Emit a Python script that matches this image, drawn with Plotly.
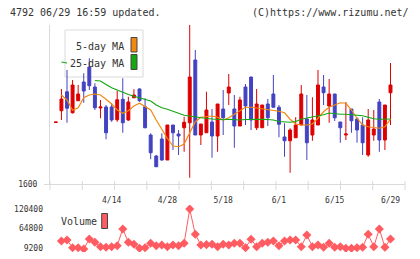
import plotly.graph_objects as go

# ---------------- data ----------------
dates = ["3/31", "4/1", "4/2", "4/3", "4/6", "4/7", "4/8", "4/9", "4/10", "4/13",
         "4/14", "4/15", "4/16", "4/17", "4/20", "4/21", "4/22", "4/23", "4/24", "4/27",
         "4/28", "4/30", "5/1", "5/7", "5/8", "5/11", "5/12", "5/13", "5/14", "5/15",
         "5/18", "5/19", "5/20", "5/21", "5/22", "5/25", "5/26", "5/27", "5/28", "5/29",
         "6/1", "6/2", "6/3", "6/4", "6/5", "6/8", "6/9", "6/10", "6/11", "6/12",
         "6/15", "6/16", "6/17", "6/18", "6/19", "6/22", "6/23", "6/24", "6/25", "6/26",
         "6/29"]

open_ = [1846, 1893, 1969, 1885, 1933, 2008, 2068, 1988, 1904, 1908,
         1908, 1857, 1939, 1856, 1945, 1980, 1909, 1796, 1712, 1780,
         1696, 1836, 1800, 1825, 1845, 2096, 1796, 1805, 1848, 1792,
         1900, 1964, 1900, 1832, 1988, 2028, 1825, 1825, 1920, 1960,
         1907, 1788, 1773, 1785, 1836, 1860, 1796, 1836, 1988, 1912,
         1960, 1848, 1796, 1900, 1860, 1836, 1716, 1796, 1928, 1776,
         1965]
high = [1848, 1980, 2056, 2016, 1996, 2043, 2103, 2003, 1936, 1916,
        1923, 1973, 2023, 1949, 1979, 1983, 1943, 1803, 1716, 1803,
        1836, 1836, 1816, 1869, 2236, 2136, 1840, 1969, 1900, 1920,
        1976, 2040, 1956, 1949, 2000, 2028, 1980, 1916, 1940, 2036,
        1916, 1843, 1823, 1867, 1996, 1956, 1947, 2056, 2036, 2020,
        1960, 1848, 1928, 1900, 1867, 1867, 1900, 1896, 1940, 1916,
        2084]
low = [1846, 1856, 1845, 1882, 1933, 1925, 1976, 1896, 1863, 1779,
       1849, 1849, 1805, 1853, 1943, 1929, 1823, 1699, 1669, 1693,
       1696, 1736, 1716, 1729, 1625, 1796, 1756, 1805, 1705, 1729,
       1796, 1916, 1745, 1832, 1836, 1816, 1816, 1825, 1832, 1907,
       1787, 1709, 1645, 1785, 1836, 1696, 1773, 1836, 1916, 1845,
       1852, 1765, 1776, 1805, 1765, 1716, 1709, 1773, 1729, 1736,
       1836]
close = [1848, 1940, 1903, 1996, 1960, 1972, 1993, 1905, 1908, 1805,
         1856, 1937, 1845, 1928, 1956, 1933, 1825, 1725, 1669, 1696,
         1836, 1805, 1792, 1847, 2028, 1796, 1840, 1896, 1792, 1920,
         1865, 1988, 1832, 1936, 1912, 1856, 1920, 1916, 1865, 1907,
         1839, 1773, 1816, 1836, 1960, 1765, 1856, 1996, 1965, 1960,
         1865, 1825, 1800, 1853, 1816, 1765, 1856, 1820, 1776, 1916,
         1996]

ma5 = [None, 1956, 1936, 1895, 1905, 1945, 1956, 1960, 1956, 1939,
       1920, 1896, 1883, 1893, 1912, 1923, 1909, 1896, 1856, 1816,
       1782, 1752, 1749, 1760, 1803, 1849, 1867, 1871, 1872, 1867,
       1856, 1865, 1879, 1896, 1907, 1907, 1904, 1899, 1899, 1896,
       1891, 1885, 1859, 1840, 1836, 1836, 1840, 1863, 1889, 1907,
       1916, 1925, 1923, 1896, 1863, 1836, 1829, 1825, 1823, 1829,
       1860]
ma25 = [None, 2088, 2084, None, None, None, None, 2014, 2012, 1998,
        1985, 1976, 1966, 1958, 1951, 1945, 1938, 1932, 1916, 1905,
        1899, 1891, 1883, 1875, 1872, 1868, 1866, 1862, 1860, 1857,
        1857, 1859, 1857, 1856, 1858, 1859, 1859, 1859, 1858, 1856,
        1850, 1848, 1847, 1850, 1859, 1864, 1868, 1872, 1877, 1884,
        1880, 1879, 1879, 1878, 1875, 1873, 1867, 1861, 1859, 1859,
        1860]

volume = [None, 29900, 32800, 10900, 10900, 7200, 35600, 26200, 13700, 12000,
          13700, 16600, 64000, 26200, 20500, 9200, 10900, 23400, 16600, 18600,
          13700, 18600, 16600, 23400, 120400, 48900, 18600, 19500, 20500, 13700,
          20500, 18600, 23400, 23400, 10900, 34700, 13700, 23400, 26200, 30000,
          16600, 30000, 32800, 32800, 13700, 47000, 13700, 18600, 12000, 23400,
          12000, 13700, 9200, 9200, 10900, 12000, 48900, 13700, 64000, 12000,
          35600]

date_ticks = ["4/14", "4/28", "5/18", "6/1", "6/15", "6/29"]
price_ticks = [1600]
volume_ticks = [9200, 64800, 120400]

# ---------------- style ----------------
W, H = 420, 259
RED = "#dd0000"
BLUE = "#4343c2"
ORANGE = "#f0890f"
GREEN = "#12a812"
VOLC = "#ff5c62"
GRID = "#dadada"
TXT = "#333333"
MONO = "DejaVu Sans Mono"


def px(x):
    return x / W


def py(y):
    return 1 - y / H


X0, X1 = 50, 405
fig = go.Figure()

fig.add_trace(go.Candlestick(
    x=dates, open=open_, high=high, low=low, close=close,
    increasing=dict(line=dict(color=RED, width=1), fillcolor=RED),
    decreasing=dict(line=dict(color=BLUE, width=1), fillcolor=BLUE),
    showlegend=False, xaxis="x", yaxis="y", hoverinfo="skip"))

fig.add_trace(go.Scatter(x=dates, y=ma5, mode="lines",
                         line=dict(color=ORANGE, width=1.2),
                         showlegend=False, xaxis="x", yaxis="y"))
fig.add_trace(go.Scatter(x=dates, y=ma25, mode="lines",
                         line=dict(color=GREEN, width=1.2),
                         showlegend=False, xaxis="x", yaxis="y"))

fig.add_trace(go.Scatter(x=dates, y=volume, mode="lines+markers",
                         line=dict(color=VOLC, width=1),
                         marker=dict(symbol="diamond", size=7, color=VOLC),
                         showlegend=False, xaxis="x2", yaxis="y2"))

xrange = [-1.05, 62.6]

fig.update_layout(
    width=W, height=H, autosize=False,
    margin=dict(l=0, r=0, t=0, b=0, pad=0, autoexpand=False),
    showlegend=False,
    paper_bgcolor="white", plot_bgcolor="white",
    boxgap=0.25,
    font=dict(family=MONO, size=8, color=TXT),
    xaxis=dict(domain=[px(X0), px(X1)], anchor="y", type="category",
               categoryorder="array", categoryarray=dates,
               range=xrange, rangeslider=dict(visible=False),
               tickmode="array", tickvals=date_ticks, ticktext=date_ticks,
               ticks="", showgrid=False, zeroline=False, automargin=False,
               showline=True, linecolor=GRID, linewidth=1,
               ticklabelstandoff=8, tickfont=dict(size=8, family=MONO, color=TXT)),
    yaxis=dict(domain=[py(184), py(25)], anchor="x",
               range=[1600, 2236], tickmode="array", tickvals=price_ticks,
               ticktext=[str(v) for v in price_ticks],
               ticks="outside", ticklen=5, tickcolor=GRID,
               showgrid=False, zeroline=False, automargin=False,
               showline=True, linecolor=GRID, linewidth=1,
               ticklabelstandoff=5, tickfont=dict(size=8, family=MONO, color=TXT)),
    xaxis2=dict(domain=[px(X0), px(X1)], anchor="y2", type="category",
                categoryorder="array", categoryarray=dates,
                range=xrange, matches="x", showticklabels=False,
                rangeslider=dict(visible=False), automargin=False,
                ticks="", showgrid=False, zeroline=False, showline=False),
    yaxis2=dict(domain=[py(252), py(205)], anchor="x2",
                range=[-1300, 131750], tickmode="array", tickvals=volume_ticks,
                ticktext=[str(v) for v in volume_ticks], automargin=False,
                ticks="", showgrid=False, zeroline=False, showline=False,
                ticklabelstandoff=6, tickfont=dict(size=8, family=MONO, color=TXT)),
)

shapes = []
# evenly spaced tick marks across the bottom axis line
for k in range(12):
    xx = X0 + (X1 - X0) * k / 11
    shapes.append(dict(type="line", xref="paper", yref="paper",
                       x0=px(xx), x1=px(xx), y0=py(181), y1=py(190),
                       line=dict(color=GRID, width=1), layer="below"))
# legend box (beneath the candles)
shapes.append(dict(type="rect", xref="paper", yref="paper",
                   x0=px(65), x1=px(143), y0=py(77), y1=py(30),
                   fillcolor="white", line=dict(color=GRID, width=1), layer="below"))
shapes.append(dict(type="rect", xref="paper", yref="paper",
                   x0=px(131), x1=px(137), y0=py(52), y1=py(37.5),
                   fillcolor=ORANGE, line=dict(color="#444444", width=1), layer="above"))
shapes.append(dict(type="rect", xref="paper", yref="paper",
                   x0=px(131), x1=px(137), y0=py(69.5), y1=py(54.5),
                   fillcolor=GREEN, line=dict(color="#444444", width=1), layer="above"))
# volume legend swatch
shapes.append(dict(type="rect", xref="paper", yref="paper",
                   x0=px(101.7), x1=px(107.5), y0=py(228.5), y1=py(213.5),
                   fillcolor=VOLC, line=dict(color="#444444", width=1), layer="above"))

annotations = [
    dict(text="4792 06/29 16:59 updated.", xref="paper", yref="paper",
         x=px(8), y=py(12.5), xanchor="left", yanchor="middle", showarrow=False,
         font=dict(family=MONO, size=10, color=TXT)),
    dict(text="(C)https://www.rizumu.net/", xref="paper", yref="paper",
         x=px(411), y=py(12.5), xanchor="right", yanchor="middle", showarrow=False,
         font=dict(family=MONO, size=10, color=TXT)),
    dict(text="5-day MA", xref="paper", yref="paper",
         x=px(125.5), y=py(46.5), xanchor="right", yanchor="middle", showarrow=False,
         font=dict(family=MONO, size=10, color=TXT)),
    dict(text="25-day MA", xref="paper", yref="paper",
         x=px(126), y=py(63.5), xanchor="right", yanchor="middle", showarrow=False,
         font=dict(family=MONO, size=10, color=TXT)),
    dict(text="Volume", xref="paper", yref="paper",
         x=px(59), y=py(221.5), xanchor="left", yanchor="middle", showarrow=False,
         font=dict(family=MONO, size=10, color=TXT)),
]

fig.update_layout(shapes=shapes, annotations=annotations)

fig.write_html("out.html")
